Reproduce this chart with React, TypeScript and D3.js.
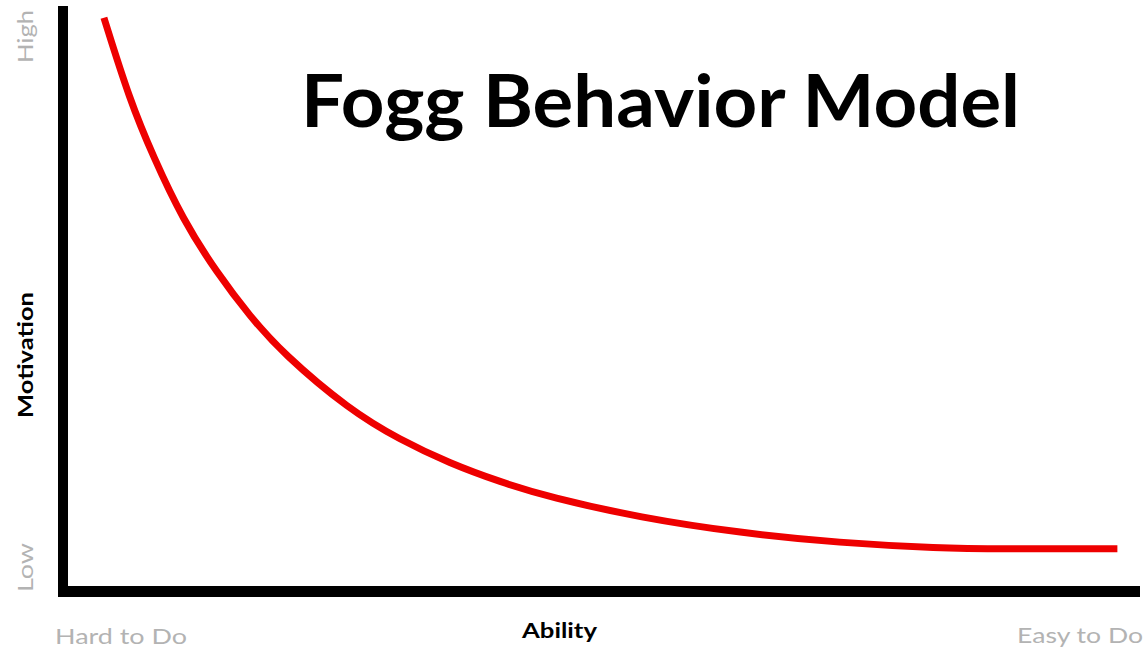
import React from "react";
import * as d3 from "d3";

const W = 1148;
const H = 653;

const title = "Fogg Behavior Model";
const xAxisTitle = "Ability";
const yAxisTitle = "Motivation";
const xEndLabels = ["Hard to Do", "Easy to Do"];
const yEndLabels = ["Low", "High"];

// Action line: ability (0-100) vs motivation (0-100)
const ability = [3.8, 6.2, 8.4, 11.1, 14.3, 17.4, 20.4, 26.6, 31.3, 35.9, 40.6, 45.2, 53.6, 62.9, 72.1, 81.4, 87.0, 97.9];
const motivation = [98.0, 83.9, 74.2, 63.6, 54.4, 46.9, 40.7, 31.0, 25.9, 21.9, 18.7, 16.1, 12.6, 10.0, 8.3, 7.4, 7.3, 7.3];

export default function App() {
  const x = d3.scaleLinear().domain([0, 100]).range([63, 1140]);
  const y = d3.scaleLinear().domain([0, 100]).range([591.5, 6]);
  const pts = ability.map((a, i) => [a, motivation[i]] as [number, number]);
  const line = d3
    .line<[number, number]>()
    .x((d) => x(d[0]))
    .y((d) => y(d[1]))
    .curve(d3.curveBasis);

  const font = "Lato, 'Open Sans', sans-serif";
  const gray = "#b3b3b3";

  return (
    <svg
      width={W}
      height={H}
      style={{ position: "absolute", left: 0, top: 0, background: "#fff", display: "block" }}
    >
      <rect width={W} height={H} fill="#fff" />
      {/* axes */}
      <line x1={x(0)} x2={x(0)} y1={y(100)} y2={y(0) + 5.5} stroke="#000" strokeWidth={10} />
      <line x1={x(0) - 5} x2={x(100)} y1={y(0)} y2={y(0)} stroke="#000" strokeWidth={11} />
      {/* curve */}
      <path d={line(pts) ?? ""} fill="none" stroke="#ee0000" strokeWidth={7} />
      {/* title */}
      <text
        x={301}
        y={127}
        fontFamily={font}
        fontWeight={700}
        fontSize={73}
        fill="#000"
        textLength={719}
        lengthAdjust="spacingAndGlyphs"
      >
        {title}
      </text>
      {/* x labels */}
      <text x={55} y={644} fontFamily={font} fontSize={21} fill={gray} textLength={132} lengthAdjust="spacingAndGlyphs">
        {xEndLabels[0]}
      </text>
      <text x={1017} y={643} fontFamily={font} fontSize={21} fill={gray} textLength={126} lengthAdjust="spacingAndGlyphs">
        {xEndLabels[1]}
      </text>
      <text
        x={522}
        y={638}
        fontFamily={font}
        fontWeight={700}
        fontSize={20}
        fill="#000"
        textLength={75}
        lengthAdjust="spacingAndGlyphs"
      >
        {xAxisTitle}
      </text>
      {/* y labels */}
      <text
        transform={`translate(33,592) rotate(-90)`}
        fontFamily={font}
        fontSize={22}
        fill={gray}
        textLength={49}
        lengthAdjust="spacingAndGlyphs"
      >
        {yEndLabels[0]}
      </text>
      <text
        transform={`translate(33,63) rotate(-90)`}
        fontFamily={font}
        fontSize={22}
        fill={gray}
        textLength={53}
        lengthAdjust="spacingAndGlyphs"
      >
        {yEndLabels[1]}
      </text>
      <text
        transform={`translate(33,418) rotate(-90)`}
        fontFamily={font}
        fontWeight={700}
        fontSize={20}
        fill="#000"
        textLength={126}
        lengthAdjust="spacingAndGlyphs"
      >
        {yAxisTitle}
      </text>
    </svg>
  );
}
